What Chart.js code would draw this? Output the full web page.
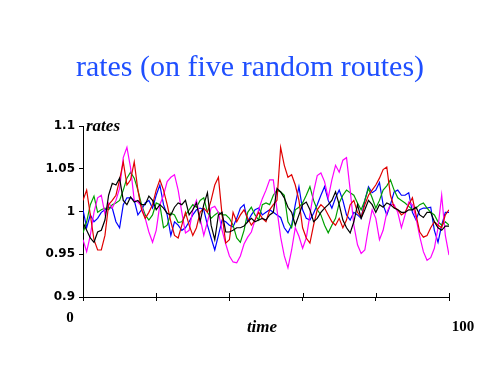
<!DOCTYPE html>
<html>
<head>
<meta charset="utf-8">
<script src="https://cdn.jsdelivr.net/npm/chart.js"></script>
<style>
  html, body { margin: 0; background: #fff; }
</style>
</head>
<body>
<canvas id="ratesChart" width="500" height="375"></canvas>
<script>
const times = Array.from({ length: 101 }, (_, i) => i);

const red = [
  1.013, 1.025, 0.996, 0.967, 0.955, 0.955, 0.972, 1.008, 1.013, 1.019,
  1.037, 1.058, 1.031, 1.037, 1.058, 1.025, 1.002, 0.992, 0.999, 1.008,
  1.025, 1.037, 1.025, 1.008, 0.988, 0.972, 0.969, 0.984, 0.999, 0.984,
  0.972, 0.981, 0.999, 1.004, 0.999, 1.013, 1.031, 1.040, 0.996, 0.963,
  0.967, 0.999, 0.988, 0.996, 1.002, 0.992, 0.984, 0.990, 0.999, 0.992,
  0.988, 1.002, 1.008, 1.013, 1.075, 1.054, 1.040, 1.043, 1.031, 1.013,
  0.981, 0.969, 0.963, 0.984, 1.002, 1.008, 1.004, 0.996, 0.988, 0.984,
  0.992, 0.981, 0.990, 1.008, 1.013, 0.999, 0.993, 1.008, 1.019, 1.025,
  1.031, 1.039, 1.049, 1.052, 1.019, 1.005, 1.002, 0.996, 0.999, 1.008,
  1.016, 0.996, 0.976, 0.970, 0.972, 0.981, 0.988, 0.984, 0.981, 0.996,
  1.002
];
const magenta = [
  0.967, 0.953, 0.972, 0.999, 1.016, 1.019, 0.997, 1.010, 1.004, 1.013,
  1.027, 1.063, 1.075, 1.051, 1.013, 1.011, 1.006, 0.992, 0.976, 0.964,
  0.978, 1.008, 1.019, 1.035, 1.040, 1.043, 1.025, 0.999, 0.975, 0.978,
  1.002, 1.013, 0.992, 0.972, 0.988, 1.004, 1.006, 0.999, 0.978, 0.962,
  0.948, 0.941, 0.940, 0.948, 0.962, 0.970, 0.976, 0.990, 1.002, 1.015,
  1.025, 1.037, 1.037, 1.002, 0.970, 0.948, 0.934, 0.955, 0.981, 0.971,
  0.957, 0.969, 0.996, 1.023, 1.042, 1.045, 1.035, 1.016, 1.037, 1.054,
  1.046, 1.060, 1.063, 1.025, 0.984, 0.961, 0.951, 0.955, 0.981, 1.002,
  0.992, 0.967, 0.978, 0.999, 1.008, 1.008, 0.999, 0.981, 0.996, 1.011,
  1.008, 0.992, 0.971, 0.953, 0.943, 0.946, 0.957, 0.981, 1.019, 0.972,
  0.949
];
const green = [
  0.975, 0.988, 1.008, 1.018, 0.999, 1.002, 1.004, 1.002, 1.008, 1.010,
  1.013, 1.025, 1.039, 1.046, 1.039, 1.025, 1.008, 0.996, 0.990, 0.996,
  1.010, 1.008, 0.981, 0.984, 0.998, 0.996, 0.987, 0.988, 0.996, 1.002,
  1.008, 1.005, 1.013, 1.016, 0.999, 0.992, 0.996, 0.999, 0.996, 0.996,
  0.992, 0.984, 0.969, 0.964, 0.978, 0.999, 1.005, 0.996, 0.990, 1.008,
  1.010, 1.008, 1.019, 1.025, 1.023, 1.019, 0.988, 0.981, 1.002, 1.005,
  1.010, 1.019, 1.029, 1.013, 1.002, 0.996, 0.984, 0.975, 0.984, 0.992,
  1.010, 1.019, 1.025, 1.022, 1.019, 1.010, 1.002, 1.013, 1.027, 1.016,
  1.004, 1.013, 1.025, 1.030, 1.037, 1.025, 1.016, 1.013, 1.010, 1.006,
  1.002, 1.004, 1.008, 1.010, 1.004, 0.999, 0.996, 0.988, 0.984, 0.988,
  0.984
];
const blue = [
  1.002, 0.981, 0.996, 0.988, 0.992, 0.999, 1.002, 1.005, 1.004, 0.988,
  0.981, 1.008, 1.016, 1.016, 1.013, 0.996, 1.002, 1.010, 1.013, 1.004,
  1.019, 1.031, 1.008, 0.996, 0.972, 0.988, 0.984, 0.978, 0.981, 0.988,
  0.996, 1.002, 1.004, 1.002, 0.984, 0.969, 0.955, 0.972, 0.990, 0.988,
  0.984, 0.982, 0.992, 1.004, 1.008, 0.988, 0.996, 1.002, 1.004, 0.996,
  0.999, 1.002, 0.999, 0.996, 0.993, 0.981, 0.975, 0.984, 1.008, 1.029,
  1.002, 0.992, 0.990, 0.998, 1.008, 1.019, 1.029, 1.013, 1.004, 1.016,
  1.025, 1.013, 0.996, 0.990, 0.999, 0.996, 0.992, 1.013, 1.029, 1.022,
  1.025, 1.034, 1.008, 0.996, 1.008, 1.023, 1.025, 1.019, 1.019, 1.022,
  0.999, 0.990, 1.002, 1.004, 1.004, 1.005, 0.978, 0.964, 0.984, 0.999,
  0.999
];
const black = [
  0.987, 0.978, 0.969, 0.964, 0.976, 0.978, 0.990, 1.019, 1.033, 1.031,
  1.039, 1.013, 1.008, 1.017, 1.011, 1.013, 1.008, 1.008, 1.018, 1.013,
  1.002, 1.008, 1.004, 0.998, 0.996, 1.005, 1.010, 1.008, 1.013, 0.996,
  1.002, 1.010, 0.988, 1.008, 1.022, 0.984, 0.967, 0.996, 0.999, 0.976,
  0.976, 0.978, 0.981, 0.981, 0.983, 0.988, 0.992, 0.988, 0.990, 0.992,
  0.990, 0.996, 0.999, 1.027, 1.023, 1.016, 1.005, 0.999, 0.984, 0.996,
  1.008, 1.011, 1.002, 0.988, 0.992, 0.999, 1.004, 1.008, 1.013, 1.023,
  1.008, 0.990, 0.981, 0.975, 0.988, 1.008, 0.992, 1.002, 1.013, 1.008,
  0.999, 1.008, 1.005, 1.010, 1.008, 1.004, 1.002, 0.999, 0.999, 1.002,
  1.002, 1.005, 0.996, 0.993, 0.999, 0.999, 0.988, 0.981, 0.978, 0.983,
  0.983
];

const yTicks = [0.9, 0.95, 1, 1.05, 1.1];
const xTicks = [0, 20, 40, 60, 80, 100];

const serif = '"Liberation Serif", "Times New Roman", serif';

// title, axis names, end labels and the inner half of the x ticks
const extras = {
  id: "extras",
  afterDraw(chart) {
    const { ctx, scales: { x, y } } = chart;
    ctx.save();
    ctx.strokeStyle = "#000";
    ctx.lineWidth = 1;
    xTicks.forEach(t => {
      const px = Math.round(x.getPixelForValue(t)) + 0.5;
      ctx.beginPath();
      ctx.moveTo(px, y.bottom - 4);
      ctx.lineTo(px, y.bottom);
      ctx.stroke();
    });
    ctx.textBaseline = "alphabetic";
    ctx.textAlign = "center";
    ctx.fillStyle = "#1f4fff";
    ctx.font = "30px " + serif;
    ctx.fillText("rates (on five random routes)", 250, 76);

    ctx.fillStyle = "#000";
    ctx.font = "italic bold 17px " + serif;
    ctx.textAlign = "left";
    ctx.fillText("rates", x.left + 3, y.top + 5);
    ctx.textAlign = "center";
    ctx.fillText("time", 262, 332);

    ctx.font = "bold 15px " + serif;
    ctx.fillText(String(xTicks[0]), x.getPixelForValue(xTicks[0]) - 13, 322);
    ctx.fillText(String(xTicks[xTicks.length - 1]), x.getPixelForValue(xTicks[xTicks.length - 1]) + 14, 331);
    ctx.restore();
  }
};

const line = (data, color) => ({
  data: data,
  borderColor: color,
  borderWidth: 1.2,
  pointRadius: 0,
  tension: 0,
  fill: false
});

const ctx = document.getElementById("ratesChart").getContext("2d");
const chart = new Chart(ctx, {
  type: "line",
  data: {
    labels: times,
    datasets: [
      line(black, "#000000"),
      line(red, "#e00000"),
      line(magenta, "#ff00ff"),
      line(green, "#00a000"),
      line(blue, "#0000ff")
    ]
  },
  options: {
    responsive: false,
    animation: false,
    layout: { padding: { top: 126, right: 51, left: 0, bottom: 0 } },
    plugins: { legend: { display: false }, tooltip: { enabled: false } },
    scales: {
      x: {
        type: "linear",
        min: 0,
        max: 100,
        afterBuildTicks: s => { s.ticks = xTicks.map(v => ({ value: v })); },
        afterFit: s => { s.height = 78; },
        ticks: { display: false },
        grid: { drawOnChartArea: false, tickLength: 4, color: "#000" },
        border: { color: "#000", width: 1 }
      },
      y: {
        min: 0.9,
        max: 1.1,
        afterBuildTicks: s => { s.ticks = yTicks.map(v => ({ value: v })); },
        afterFit: s => { s.width = 83; },
        ticks: {
          color: "#000",
          padding: 4,
          font: { family: '"DejaVu Sans", sans-serif', size: 12, weight: "bold" },
          callback: v => String(+v.toFixed(2))
        },
        grid: { drawOnChartArea: false, tickLength: 4, color: "#000" },
        border: { color: "#000", width: 1 }
      }
    }
  },
  plugins: [extras]
});
</script>
</body>
</html>
